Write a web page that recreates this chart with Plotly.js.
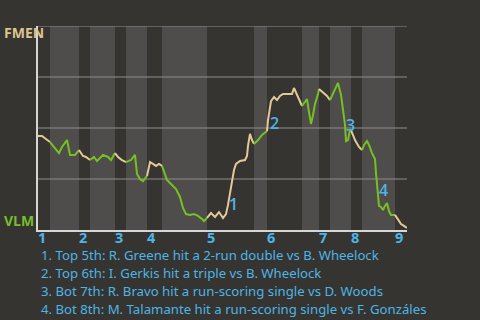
<!DOCTYPE html>
<html><head><meta charset="utf-8">
<script src="https://cdn.plot.ly/plotly-3.0.1.min.js"></script>
<style>html,body{margin:0;padding:0;background:#363430;}#chart{width:480px;height:320px;}</style>
</head><body><div id="chart"></div>
<script>
// Game progress (arbitrary event units) and FMEN win probability (%)
const progress = [0,4,8,12,15,18,21,24,29,32,37,41,45,48,52,56,59,65,70,73,77,80,84,88,93,97,99,102,105,109,
  112,115,118,121,124,126,129,134,138,142,145,148,152,156,160,164,166,169,
  173,177,181,185,188,190,192,194,196,198,202,207,209,210,212,214,216,220,224,229,
  230,233,236,239,242,245,250,254,256,259,262,264,267,269,271,273,275,277,280,281,
  285,289,292,296,300,303,305,307,308,310,312,313,317,321,324,
  326,329,331,334,337,338,339,340,341,343,345,347,349,351,353,357,360,363,366,369];
const fmenWinPct = [46.1,46.1,44.6,43.1,41.2,39.2,37.7,40.7,44.1,36.8,36.8,39.2,36.3,35.8,34.3,35.8,33.8,36.8,35.8,34.3,37.7,35.8,34.3,33.3,34.3,36.8,27.5,25.0,24.0,26.5,
  33.3,32.4,31.4,32.4,31.4,28.4,24.5,22.1,20.1,16.2,10.8,7.8,7.4,7.8,6.9,5.4,4.4,5.9,
  8.3,6.4,8.8,5.9,7.8,12.3,18.6,24.5,29.4,32.4,33.8,34.3,36.3,41.2,47.1,44.1,42.2,44.1,46.6,48.5,
  53.9,63.2,65.2,63.7,65.7,66.7,66.7,66.7,69.6,66.2,62.7,60.8,63.2,64.2,57.8,52.0,56.4,61.8,66.7,69.1,
  67.6,65.7,63.7,67.6,72.1,66.2,58.3,51.5,43.6,44.1,49.0,49.0,44.1,40.7,39.2,
  41.7,43.6,41.7,37.7,34.8,27.9,21.6,17.2,11.8,11.3,9.8,11.8,13.2,9.3,7.4,7.4,4.9,2.9,2.0,1.0];
const inningStarts = [0,41,77,109,169,229,281,313,357];
const inningLabels = ['1','2','3','4','5','6','7','8','9'];
const bottomStarts = [12,52,88,124,216,264,292,324];
const gameEnd = 369;
const gridLevels = [25,50,75,100];
const teamTop = 'FMEN', teamBottom = 'VLM';
const eventNums = ['1','2','3','4'];
const eventX = [195,236,312,345];
const eventY = [12.7,52.5,51.5,19.6];
const captions = [
  '1. Top 5th: R. Greene hit a 2-run double vs B. Wheelock',
  '2. Top 6th: I. Gerkis hit a triple vs B. Wheelock',
  '3. Bot 7th: R. Bravo hit a run-scoring single vs D. Woods',
  '4. Bot 8th: M. Talamante hit a run-scoring single vs F. Gonzáles'
];

const TAN = '#e3c996', GREEN = '#76c121', BLUE = '#4db4e8', GRID = '#8e8e8c';
// half-inning boundaries
const bounds = [];
inningStarts.forEach((s,i)=>{bounds.push(s); if (i < bottomStarts.length) bounds.push(bottomStarts[i]);});
bounds.push(gameEnd);
const traces = [];
for (let i = 0; i < bounds.length - 1; i++) {
  const a = bounds[i], b = bounds[i+1];
  const xs = [], ys = [];
  progress.forEach((x,k)=>{ if (x >= a && x <= b) { xs.push(x); ys.push(fmenWinPct[k]); } });
  traces.push({x: xs, y: ys, type: 'scatter', mode: 'lines', hoverinfo: 'skip',
    line: {color: i % 2 === 0 ? TAN : GREEN, width: 2}});
}
const shapes = bottomStarts.map((s,i)=>({type:'rect', xref:'x', yref:'paper', x0:s, x1:inningStarts[i+1],
  y0:0, y1:1, fillcolor:'#4e4d4b', line:{width:0}, layer:'below'}));
gridLevels.forEach(v=>shapes.push({type:'line', xref:'paper', yref:'y', x0:0, x1:1, y0:v, y1:v,
  line:{color:GRID, width:1.2}, layer:'below'}));

const annotations = [
  {text: teamTop, xref:'paper', yref:'paper', x:-0.0976, y:0.966, xanchor:'left', yanchor:'middle', showarrow:false,
   font:{family:'Open Sans', size:14, color:'#dcc48f', weight:700}},
  {text: teamBottom, xref:'paper', yref:'paper', x:-0.0976, y:0.049, xanchor:'left', yanchor:'middle', showarrow:false,
   font:{family:'Open Sans', size:14, color:'#78bd2a', weight:700}}
];
// inning labels, left-aligned to the start of each inning
inningStarts.forEach((s,i)=>annotations.push({text:inningLabels[i], x:s, xref:'x', yref:'paper', y:-0.037,
  xanchor:'left', yanchor:'middle', xshift:-1.5, borderpad:0, showarrow:false,
  font:{family:'Open Sans', size:14.5, color:BLUE, weight:700}}));
eventNums.forEach((t,i)=>annotations.push({text:t, x:eventX[i], y:eventY[i], xref:'x', yref:'y', showarrow:false,
  xanchor:'center', yanchor:'middle', font:{family:'Open Sans', size:16, color:BLUE, weight:600}}));
captions.forEach((t,i)=>annotations.push({text:t, xref:'paper', yref:'paper', x:0.0054, y:(230-(254.5+18*i))/204,
  xanchor:'left', yanchor:'middle', borderpad:0, showarrow:false, font:{family:'Noto Sans', size:13.2, color:BLUE}}));

const layout = {
  width: 480, height: 320,
  margin: {l:38, r:73, t:26, b:90},
  paper_bgcolor: '#363430', plot_bgcolor: '#363430',
  showlegend: false,
  xaxis: {range:[0,gameEnd], tickvals: inningStarts, showticklabels:false, showgrid:false, zeroline:false,
    showline:true, linecolor:'#d6d6d6', linewidth:2, ticks:''},
  yaxis: {range:[0,100], showticklabels:false, showgrid:false,
    zeroline:false, showline:true, linecolor:'#d6d6d6', linewidth:2, ticks:''},
  shapes: shapes,
  annotations: annotations
};
Plotly.newPlot('chart', traces, layout, {displayModeBar:false, staticPlot:true});
</script></body></html>
